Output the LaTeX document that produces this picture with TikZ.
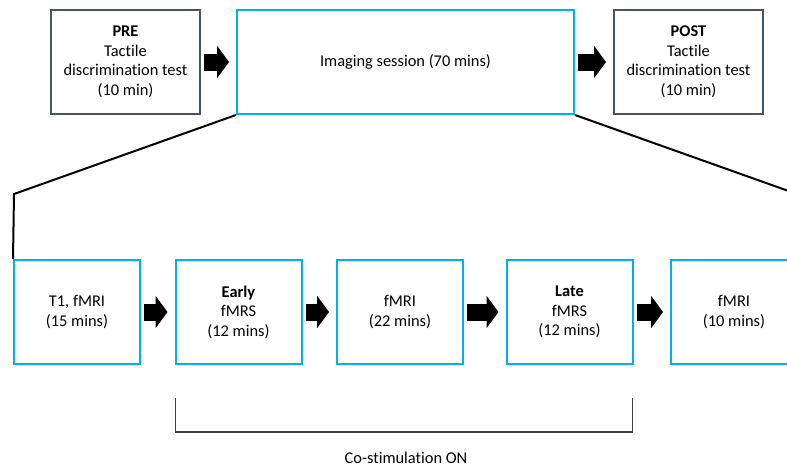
\documentclass[tikz,border=0pt]{standalone}
\usepackage{fontspec}
\setmainfont[Ligatures=NoCommon]{Carlito}
\usetikzlibrary{arrows.meta}
\definecolor{slate}{HTML}{44546A}
\definecolor{skyblue}{HTML}{00B0F0}
\definecolor{bracketgray}{HTML}{404040}

\begin{document}
\begin{tikzpicture}[x=1pt, y=-1pt,
	box/.style={draw, line width=2pt, minimum height=104pt, inner sep=2pt, align=center, text=black, font=\fontsize{16.4}{19.5}\selectfont},
	testbox/.style={box, draw=slate, minimum width=149pt},
	scanbox/.style={box, draw=skyblue, minimum width=126pt},
	blockarrow/.style={line width=17pt, -{Triangle[length=12pt, width=32pt]}, shorten <=3pt, shorten >=7pt}]
		
		\clip (0,0) rectangle (787,469);
		
		\node[testbox] (pre) at (125.5,62) {\textbf{PRE}\\Tactile\\discrimination test\\(10 min)};
		\node[box, draw=skyblue, minimum width=337pt] (img) at (405.5,62) {Imaging session (70 mins)};
		\node[testbox] (post) at (688.5,62) {\textbf{POST}\\Tactile\\discrimination test\\(10 min)};
		
		\draw [blockarrow] (pre) -- (img);
		\draw [blockarrow] (img) -- (post);
		
		\node[scanbox] (t1) at (77,312) {T1, fMRI\\(15 mins)};
		\node[scanbox] (early) at (238.5,312) {\textbf{Early}\\fMRS\\(12 mins)};
		\node[scanbox] (mri1) at (400,312) {fMRI\\(22 mins)};
		\node[scanbox] (late) at (569.5,312) {\textbf{Late}\\fMRS\\(12 mins)};
		\node[scanbox] (mri2) at (734,312) {fMRI\\(10 mins)};
		
		\draw [blockarrow] (t1) -- (early);
		\draw [blockarrow] (early) -- (mri1);
		\draw [blockarrow] (mri1) -- (late);
		\draw [blockarrow] (late) -- (mri2);
		
		\coordinate (kneeL) at (14,194);
		\coordinate (kneeR) at (797,194);
		\draw [line width=2pt] (img.south west) -- (kneeL) -- (t1.north west);
		\draw [line width=2pt] (img.south east) -- (kneeR) -- (mri2.north east);
		
		\coordinate (brL) at (175.5,398);
		\coordinate (brR) at (632.5,398);
		\draw [bracketgray, line width=1.5pt] (brL) -- ++(0,34) -| (brR);
		\node[font=\fontsize{16.4}{19.5}\selectfont] (costim) at (406,458) {Co-stimulation ON};
	\end{tikzpicture}
\end{document}
